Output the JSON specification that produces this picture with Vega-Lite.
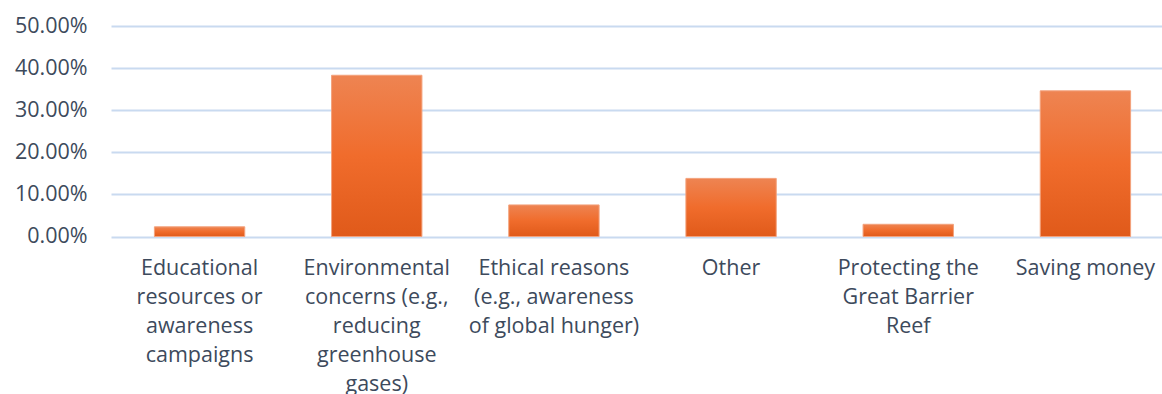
{
  "$schema": "https://vega.github.io/schema/vega-lite/v6.json",
  "autosize": {"type": "none"},
  "width": 1051,
  "height": 210.5,
  "padding": {"left": 111, "top": 26, "right": 0, "bottom": 157},
  "background": "white",
  "data": {
    "values": [
      {"reason": "Educational resources or awareness campaigns", "share": 0.023},
      {"reason": "Environmental concerns (e.g., reducing greenhouse gases)", "share": 0.383},
      {"reason": "Ethical reasons (e.g., awareness of global hunger)", "share": 0.075},
      {"reason": "Other", "share": 0.138},
      {"reason": "Protecting the Great Barrier Reef", "share": 0.029},
      {"reason": "Saving money", "share": 0.346}
    ]
  },
  "config": {
    "view": {"stroke": null},
    "font": "Open Sans"
  },
  "mark": {
    "type": "bar",
    "stroke": "#f3a27c",
    "strokeWidth": 1,
    "color": {
      "gradient": "linear",
      "x1": 0, "y1": 0, "x2": 0, "y2": 1,
      "stops": [
        {"offset": 0, "color": "#ee8452"},
        {"offset": 0.5, "color": "#f06c2c"},
        {"offset": 1, "color": "#e05a1a"}
      ]
    }
  },
  "encoding": {
    "x": {
      "field": "reason",
      "type": "nominal",
      "sort": null,
      "title": null,
      "scale": {"range": [0, 1063], "paddingInner": 0.49, "paddingOuter": 0.245},
      "axis": {
        "domain": false,
        "ticks": false,
        "labelAngle": 0,
        "labelFontSize": 21.5,
        "labelColor": "#3d4a5c",
        "labelPadding": 21,
        "labelLineHeight": 29,
        "labelBaseline": "top",
        "labelLimit": 0,
        "labelExpr": "datum.value == 'Educational resources or awareness campaigns' ? ['Educational', 'resources or', 'awareness', 'campaigns'] : datum.value == 'Environmental concerns (e.g., reducing greenhouse gases)' ? ['Environmental', 'concerns (e.g.,', 'reducing', 'greenhouse', 'gases)'] : datum.value == 'Ethical reasons (e.g., awareness of global hunger)' ? ['Ethical reasons', '(e.g., awareness', 'of global hunger)'] : datum.value == 'Protecting the Great Barrier Reef' ? ['Protecting the', 'Great Barrier', 'Reef'] : datum.value"
      }
    },
    "y": {
      "field": "share",
      "type": "quantitative",
      "title": null,
      "scale": {"domain": [0, 0.5], "nice": false},
      "axis": {
        "format": ".2%",
        "values": [0, 0.1, 0.2, 0.3, 0.4, 0.5],
        "domain": false,
        "ticks": false,
        "labelFontSize": 21.5,
        "labelColor": "#3d4a5c",
        "labelPadding": 24,
        "gridColor": "#c9daf0",
        "gridWidth": 2
      }
    }
  }
}
